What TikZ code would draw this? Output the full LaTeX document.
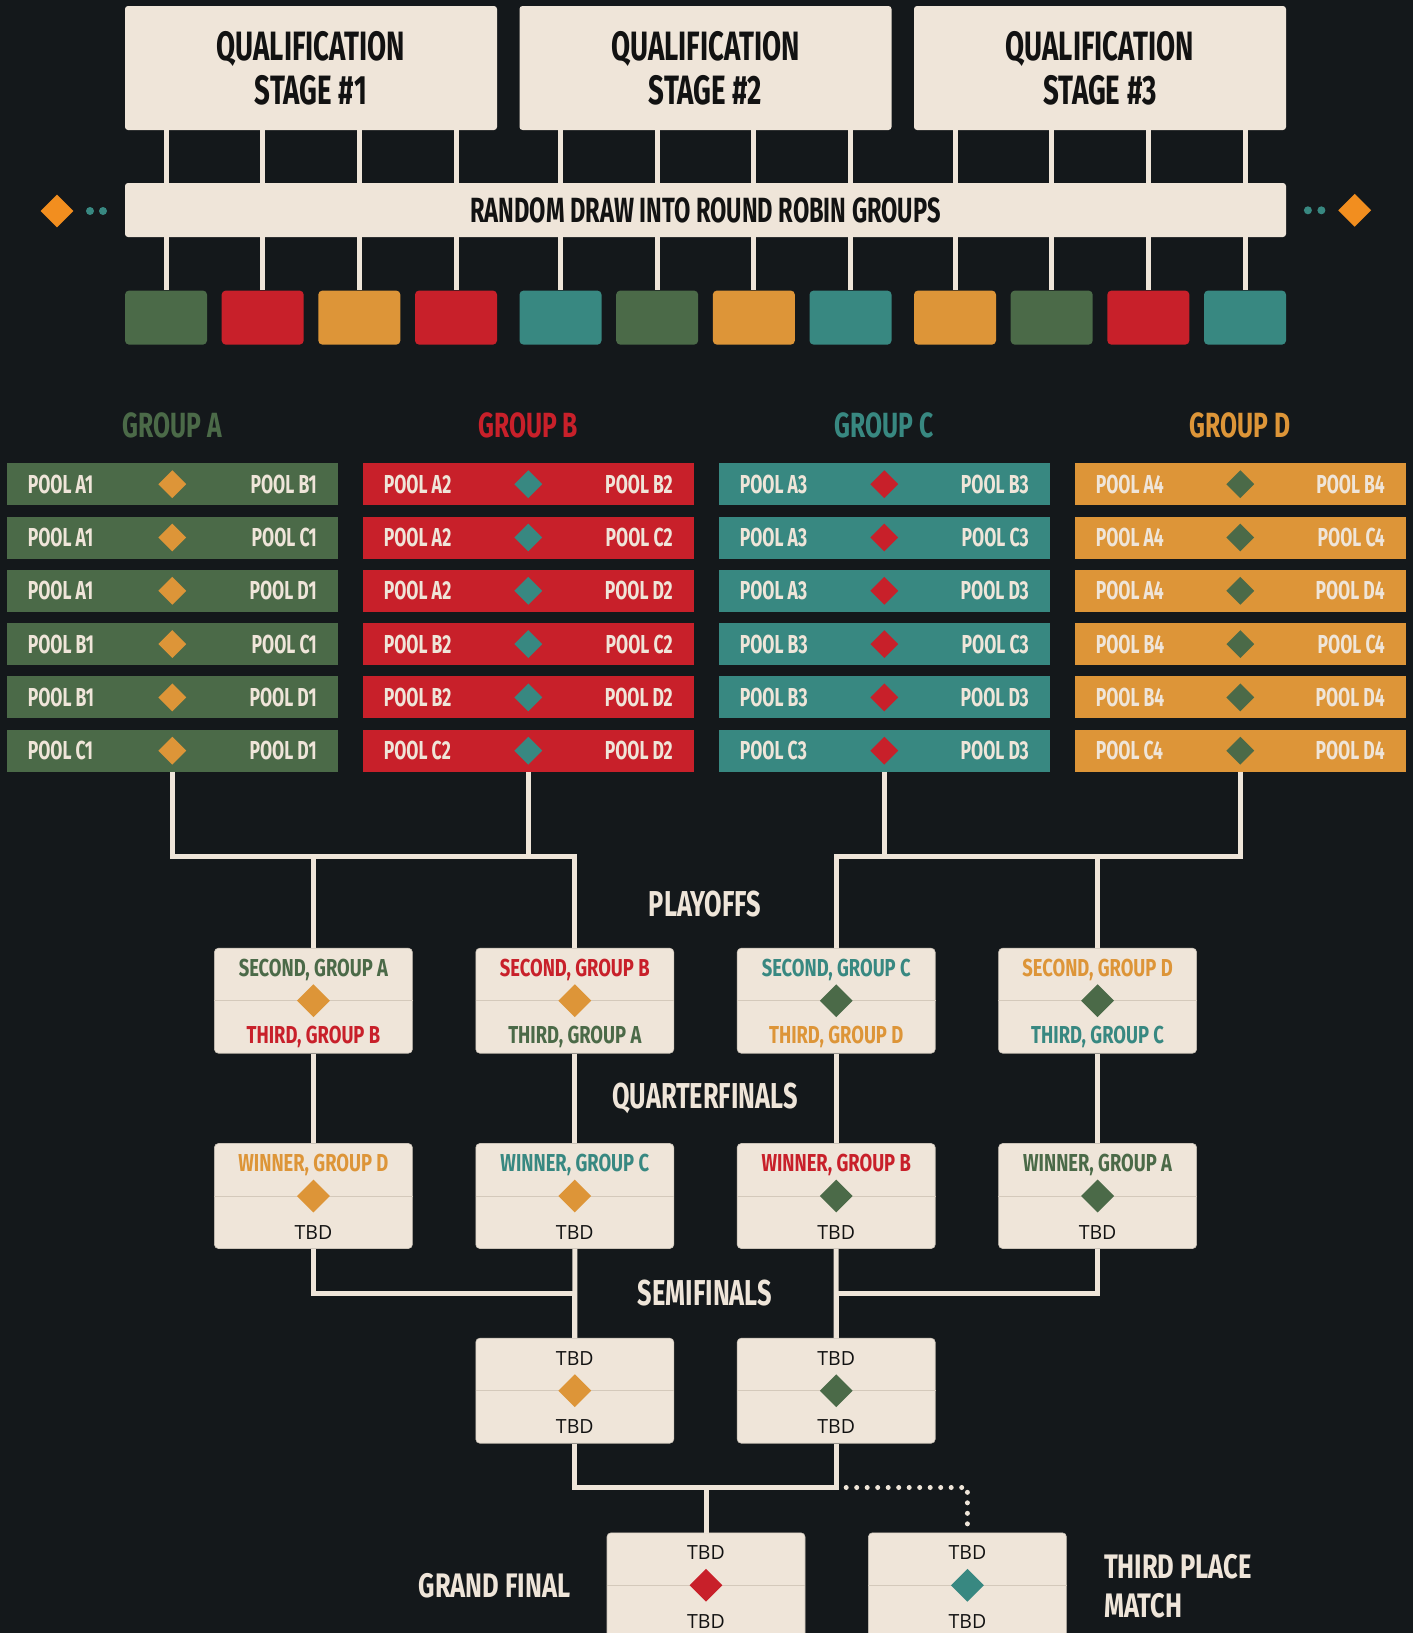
\documentclass[tikz,border=0pt]{standalone}
\usepackage{fontspec}
\setmainfont{Open Sans}
\newfontfamily\headfont[FakeStretch=0.675]{Fira Sans}
\newfontfamily\midfont[FakeStretch=0.705]{Fira Sans}
\newfontfamily\widefont[FakeStretch=0.75]{Fira Sans}
\newfontfamily\tbdfont{Open Sans}
\usepackage{xcolor}
\usetikzlibrary{calc}
\usetikzlibrary{shapes.geometric}

% --- Színek ---
\definecolor{bg}{HTML}{14181B}
\definecolor{cream}{HTML}{EFE5D9}
\definecolor{ink}{HTML}{121212}
\definecolor{grn}{HTML}{4B6A48}
\definecolor{rd}{HTML}{C8202A}
\definecolor{org}{HTML}{DD9538}
\definecolor{tl}{HTML}{388881}
\definecolor{brorg}{HTML}{F28E1F}
\definecolor{divcol}{HTML}{D4C9BB}

\begin{document}
\begin{tikzpicture}[x=1pt, y=-1pt,
    % --- Saját stílusok definiálása ---
    stagebox/.style = {rectangle, fill=cream, rounded corners=3pt, minimum width=372pt, minimum height=124pt, align=center, text=ink, font=\headfont\bfseries\fontsize{41}{44}\selectfont}, % selejtező doboz
    drawbox/.style = {rectangle, fill=cream, rounded corners=3pt, minimum width=1161pt, minimum height=54pt, text=ink, font=\headfont\bfseries\fontsize{35}{38}\selectfont}, % sorsolás sáv
    poolbox/.style = {rectangle, fill=#1, rounded corners=4pt, minimum width=82pt, minimum height=54pt}, % kis színes doboz
    matchrow/.style = {rectangle, fill=#1, minimum width=331pt, minimum height=42pt}, % csoportmeccs sor
    pooltext/.style = {inner sep=0pt, text=cream, font=\headfont\bfseries\fontsize{26}{28}\selectfont},
    grouptitle/.style = {inner sep=0pt, text=#1, font=\midfont\bfseries\fontsize{35}{38}\selectfont},
    gem/.style = {diamond, fill=#1, inner sep=0pt, minimum width=28pt, minimum height=28pt}, % rombusz
    biggem/.style = {gem=#1, minimum width=33pt, minimum height=33pt},
    bracket/.style = {rectangle, fill=cream, draw=cream!85!black, line width=0.6pt, rounded corners=4pt, minimum width=198pt, minimum height=105pt}, % ágrajz doboz
    teamtext/.style = {inner sep=0pt, anchor=base, text=#1, font=\widefont\bfseries\fontsize{24.5}{26}\selectfont},
    tbdtext/.style = {inner sep=0pt, anchor=base, text=ink, font=\tbdfont\fontsize{19.5}{22}\selectfont},
    stagelabel/.style = {inner sep=0pt, text=cream, font=\midfont\bfseries\fontsize{36}{40}\selectfont},
    biglabel/.style = {inner sep=0pt, text=cream, font=\widefont\bfseries\fontsize{34}{38.6}\selectfont},
    link/.style = {draw=cream, line width=5pt},                      % összekötő vonal
    dotlink/.style = {draw=cream, line width=5pt, line cap=round, dash pattern=on 0pt off 10.5pt}, % pontozott vonal
    divider/.style = {draw=divcol, line width=1pt}                   % elválasztó
    ]

    % --- Háttér ---
    \clip (0,0) rectangle (1413,1633);
    \fill[bg] (0,0) rectangle (1413,1633);

    % --- Selejtezők és sorsolás ---
    \foreach \s in {1,2,3} {
        \node[stagebox] (stage\s) at ({311+394.5*(\s-1)},68) {QUALIFICATION\\STAGE \#\s};
    }
    \node[drawbox] (drw) at (705.5,210) {RANDOM DRAW INTO ROUND ROBIN GROUPS};

    % --- Díszítés a sáv két oldalán ---
    \node[biggem=brorg] (ornL) at (57,211) {};
    \fill[tl] (90,211) circle (4pt) (103,211) circle (4pt);
    \node[biggem=brorg] (ornR) at (1354.7,210.3) {};
    \fill[tl] (1307.9,210.3) circle (4pt) (1321.4,210.3) circle (4pt);

    % --- Kis dobozok és vonalaik ---
    \foreach \c [count=\i from 0] in {grn,rd,org,rd,tl,grn,org,tl,org,grn,rd,tl} {
        \pgfmathtruncatemacro{\st}{floor(\i/4)+1}
        \pgfmathsetmacro{\px}{125+394.5*(\st-1)+41+96.67*mod(\i,4)}
        \node[poolbox=\c] (b\i) at (\px,317.6) {};
        \draw[link] (b\i |- stage\st.south) -- (b\i |- drw.north);
        \draw[link] (b\i |- drw.south) -- (b\i.north);
    }

    % --- Csoportok ---
    \foreach \g/\n/\fc/\gc [count=\k from 0] in {A/1/grn/org, B/2/rd/tl, C/3/tl/rd, D/4/org/grn} {
        \pgfmathsetmacro{\gx}{172.3+356*\k}
        \node[grouptitle=\fc, anchor=base] (t\g) at (\gx,437) {GROUP \g};
        \foreach \p/\q [count=\j] in {A/B,A/C,A/D,B/C,B/D,C/D} {
            \node[matchrow=\fc] (r\g\j) at ({\gx},{484.2+53.3*(\j-1)}) {};
            \node[pooltext, anchor=base west] (l\g\j) at ([xshift=21pt,yshift=-9pt]r\g\j.west) {POOL \p\n};
            \node[pooltext, anchor=base east] (q\g\j) at ([xshift=-21pt,yshift=-9pt]r\g\j.east) {POOL \q\n};
            \node[gem=\gc] (d\g\j) at (r\g\j.center) {};
        }
    }

    % --- Rájátszás ---
    \foreach \ga/\ca/\gb/\cb/\gc [count=\i] in {A/grn/B/rd/org, B/rd/A/grn/org, C/tl/D/org/grn, D/org/C/tl/grn} {
        \node[bracket] (po\i) at ({313.4+261.4*(\i-1)},1000.7) {};
        \draw[divider] (po\i.west) -- (po\i.east);
        \node[biggem=\gc] (pg\i) at (po\i.center) {};
        \node[teamtext=\ca] (pa\i) at ([yshift=24.5pt]po\i.center) {SECOND, GROUP \ga};
        \node[teamtext=\cb] (pb\i) at ([yshift=-42.5pt]po\i.center) {THIRD, GROUP \gb};
    }

    % --- Negyeddöntők ---
    \foreach \ga/\ca/\gc [count=\i] in {D/org/org, C/tl/org, B/rd/grn, A/grn/grn} {
        \node[bracket] (qf\i) at ({313.4+261.4*(\i-1)},1196) {};
        \draw[divider] (qf\i.west) -- (qf\i.east);
        \node[biggem=\gc] (qg\i) at (qf\i.center) {};
        \node[teamtext=\ca] (qa\i) at ([yshift=24.5pt]qf\i.center) {WINNER, GROUP \ga};
        \node[tbdtext] (qb\i) at ([yshift=-43pt]qf\i.center) {TBD};
        \draw[link] (po\i.south) -- (qf\i.north);
    }

    % --- Elődöntők, döntő, bronzmeccs ---
    \foreach \nm/\x/\y/\gc in {sf1/574.8/1390.7/org, sf2/836.2/1390.7/grn, fin/706/1585.3/rd, thr/967.4/1585.3/tl} {
        \node[bracket] (\nm) at (\x,\y) {};
        \draw[divider] (\nm.west) -- (\nm.east);
        \node[biggem=\gc] (\nm g) at (\nm.center) {};
        \node[tbdtext] (\nm a) at ([yshift=25.5pt]\nm.center) {TBD};
        \node[tbdtext] (\nm b) at ([yshift=-43pt]\nm.center) {TBD};
    }

    % --- Feliratok ---
    \node[stagelabel] (lpo) at (705,904) {PLAYOFFS};
    \node[stagelabel] (lqf) at (705,1098.6) {QUARTERFINALS};
    \node[stagelabel] (lsf) at (705,1293.3) {SEMIFINALS};
    \node[biglabel] (lgf) at (494.6,1586) {GRAND FINAL};
    \node[biglabel, anchor=west, align=left] (ltp) at (1103.8,1586.3) {THIRD PLACE\\MATCH};

    % --- Csoportok -> rájátszás ---
    \coordinate (jA) at ($(rA6.south)+(0,84.3)$);
    \draw[link] (rA6.south) -- (jA) -| (po2.north);
    \draw[link] (rB6.south) -- (rB6.south |- jA);
    \draw[link] (po1.north) -- (po1.north |- jA);
    \coordinate (jD) at ($(rD6.south)+(0,84.3)$);
    \draw[link] (rD6.south) -- (jD) -| (po3.north);
    \draw[link] (rC6.south) -- (rC6.south |- jD);
    \draw[link] (po4.north) -- (po4.north |- jD);

    % --- Negyeddöntők -> elődöntők ---
    \coordinate (jL) at ($(qf1.south)+(0,44.8)$);
    \draw[link] (qf1.south) -- (jL) -| (sf1.north);
    \draw[link] (qf2.south) -- (sf1.north);
    \draw[link] (qf4.south) -- (qf4.south |- jL) -| (sf2.north);
    \draw[link] (qf3.south) -- (sf2.north);

    % --- Elődöntők -> döntő (és bronzmeccs pontozva) ---
    \coordinate (jF) at ($(sf1.south)+(0,44)$);
    \draw[link] (sf1.south) -- (jF) -| (sf2.south);
    \draw[link] (fin.north) -- (fin.north |- jF);
    \draw[dotlink] ($(sf2.south |- jF)+(10,0)$) -| ($(thr.north)+(0,-6)$);
\end{tikzpicture}
\end{document}
